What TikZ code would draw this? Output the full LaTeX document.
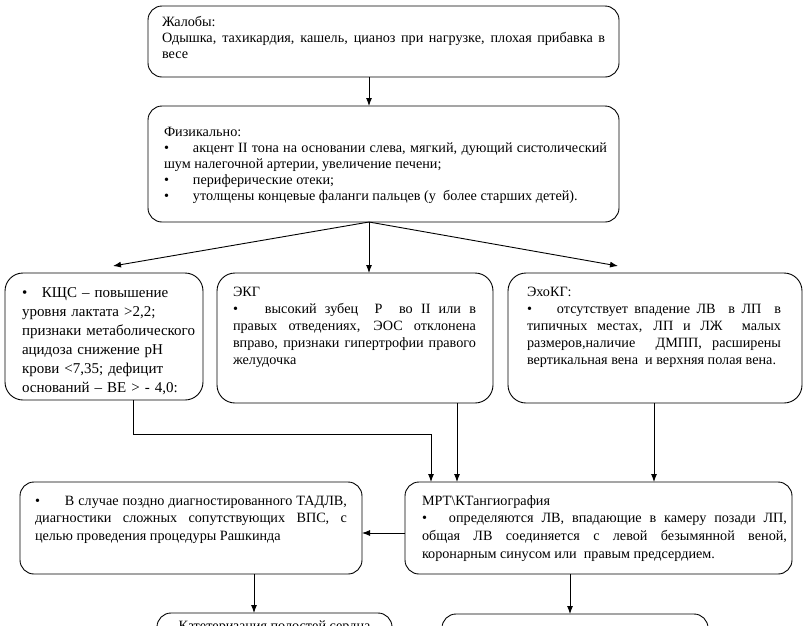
\documentclass[tikz,border=0pt]{standalone}
\usepackage{fontspec}
\setmainfont{Liberation Serif}
\usetikzlibrary{arrows.meta,calc}
\newcommand\bul[1][30pt]{\makebox[#1][l]{•}}
\begin{document}
\begin{tikzpicture}[x=1pt,y=-1pt,
  box/.style={draw,line width=0.9pt,rounded corners=14pt,inner sep=0pt,outer sep=0pt,anchor=north west},
  rbox/.style={box,rounded corners=18pt},
  tx/.style={inner sep=0pt,outer sep=0pt,anchor=base west,align=justify},
  fA/.style={font=\fontsize{14.2}{16}\selectfont},
  fB/.style={font=\fontsize{14.2}{17}\selectfont},
  fC/.style={font=\fontsize{14.2}{17.8}\selectfont},
  fK/.style={font=\fontsize{15}{19}\selectfont},
  arr/.style={-{Latex[length=8pt,width=6pt]},line width=0.9pt}]
\useasboundingbox (0,0) rectangle (807,625);
% boxes
\node[box,minimum width=471pt,minimum height=71pt] (b1) at (148,6) {};
\node[box,minimum width=471pt,minimum height=116pt] (b2) at (148,106) {};
\node[rbox,minimum width=198pt,minimum height=127pt] (b3a) at (5,273) {};
\node[rbox,minimum width=276pt,minimum height=130pt] (b3b) at (217,273) {};
\node[rbox,minimum width=294pt,minimum height=130pt] (b3c) at (508,273) {};
\node[box,minimum width=342pt,minimum height=92pt] (b4a) at (20,482) {};
\node[box,minimum width=387pt,minimum height=92pt] (b4b) at (405,482) {};
\node[box,minimum width=235pt,minimum height=80pt] (b5a) at (157,613) {};
\node[box,minimum width=266pt,minimum height=80pt] (b5b) at (442,614) {};
% texts
\node[tx,fA,text width=443pt] (t1) at (162,26.5) {Жалобы:\par
Одышка, тахикардия, кашель, цианоз при нагрузке, плохая прибавка в\linebreak весе};
\node[tx,fA,text width=443pt] (t2) at (164,136) {Физикально:\par
\bul[29pt]акцент II тона на основании слева, мягкий, дующий систолический\linebreak шум налегочной артерии, увеличение печени;\par
\bul[29pt]периферические отеки;\par
\bul[29pt]утолщены концевые фаланги пальцев (у\ \ более старших детей).};
\node[tx,fK,text width=180pt,align=left] (t3a) at (22,297) {\bul[20pt]КЩС – повышение\\
уровня лактата >2,2;\\
признаки метаболического\\
ацидоза снижение pH\\
крови <7,35; дефицит\\
оснований – BE > - 4,0:};
\node[tx,fB,text width=243pt] (t3b) at (233,296) {ЭКГ\par
\bul[32pt]высокий зубец\ \ Р\ \ во II или в\linebreak правых отведениях, ЭОС отклонена\linebreak вправо, признаки гипертрофии правого\linebreak желудочка};
\node[tx,fB,text width=254pt] (t3c) at (527,296) {ЭхоКГ:\par
\bul[30pt]отсутствует впадение ЛВ\ \ в ЛП\ \ в\linebreak типичных местах, ЛП и ЛЖ\ \ малых\linebreak размеров,наличие\ \ ДМПП, расширены\linebreak вертикальная вена\ \ и верхняя полая вена.};
\node[tx,fC,text width=312pt] (t4a) at (35,505) {\bul[30pt]В случае поздно диагностированного ТАДЛВ,\linebreak диагностики сложных сопутствующих ВПС, с\linebreak целью проведения процедуры Рашкинда};
\node[tx,fC,text width=365pt] (t4b) at (422,505) {МРТ\textbackslash КТангиография\par
\bul[27pt]определяются ЛВ, впадающие в камеру позади ЛП,\linebreak общая ЛВ соединяется с левой безымянной веной,\linebreak коронарным синусом или\ \ правым предсердием.};
\node[inner sep=0pt,anchor=base,fA] (t5a) at (274.5,630) {Катетеризация полостей сердца};
% connector helper coordinates
\coordinate (cx) at (369,0);
\coordinate (e3a) at (113,266);
\coordinate (e3c) at (618,266);
\coordinate (k1) at (133,0);
\coordinate (k2) at (431,434);
\coordinate (k3) at (457,0);
\coordinate (k4) at (654,0);
\coordinate (k5) at (0,533);
\coordinate (k6) at (254,0);
\coordinate (k7) at (570,0);
% connectors
\draw[arr] (b1.south -| cx) -- (b2.north -| cx);
\draw[arr] (b2.south -| cx) -- (e3a);
\draw[arr] (b2.south -| cx) -- (b3b.north -| cx);
\draw[arr] (b2.south -| cx) -- (e3c);
\draw[arr] (b3a.south -| k1) |- (k2) -- (b4b.north -| k2);
\draw[arr] (b3b.south -| k3) -- (b4b.north -| k3);
\draw[arr] (b3c.south -| k4) -- (b4b.north -| k4);
\draw[arr] (k5 -| b4b.west) -- (k5 -| b4a.east);
\draw[arr] (b4a.south -| k6) -- (b5a.north -| k6);
\draw[arr] (b4b.south -| k7) -- (b5b.north -| k7);
\end{tikzpicture}
\end{document}
